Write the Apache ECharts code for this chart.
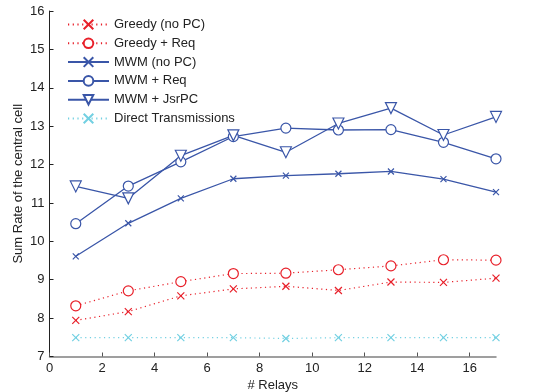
<!DOCTYPE html>
<html><head><meta charset="utf-8">
<script src="https://cdn.jsdelivr.net/npm/echarts@6/dist/echarts.min.js"></script>
<style>html,body{margin:0;padding:0;background:#fff}#c{width:541px;height:392px}</style>
</head><body><div id="c"></div>
<script>
const relays = [1, 3, 5, 7, 9, 11, 13, 15, 17];
const greedyNoPC = [7.94, 8.17, 8.58, 8.76, 8.83, 8.72, 8.94, 8.93, 9.04];
const greedyReq = [8.32, 8.71, 8.95, 9.16, 9.17, 9.26, 9.36, 9.52, 9.51];
const mwmNoPC = [9.61, 10.47, 11.12, 11.63, 11.71, 11.76, 11.82, 11.62, 11.28];
const mwmReq = [10.46, 11.44, 12.07, 12.73, 12.95, 12.90, 12.91, 12.58, 12.15];
const mwmJsr = [11.43, 11.12, 12.23, 12.76, 12.32, 13.07, 13.47, 12.77, 13.24];
const direct = [7.49, 7.49, 7.49, 7.49, 7.47, 7.49, 7.49, 7.49, 7.49];
const xTicks = [0, 2, 4, 6, 8, 10, 12, 14, 16];

const RED = '#e8202a', BLUE = '#3a56a8', CYAN = '#72d0e2';
const XSYM = 'path://M0,0L10,10M10,0L0,10';
const TRI = 'path://M0,0L10,0L5,9Z';
const font = 'Liberation Sans, Arial, sans-serif';

function pts(v) { return relays.map((x, i) => [x, v[i]]); }
function mk(name, data, color, dotted, symbol, size) {
  const hollow = symbol !== XSYM;
  return {
    name, type: 'line', data: pts(data), symbol, symbolSize: size,
    showSymbol: true,
    lineStyle: { color, width: dotted ? 1.2 : 1.3, type: dotted ? [1.2, 3.5] : 'solid' },
    itemStyle: { color: hollow ? '#fff' : color, borderColor: color, borderWidth: 1.2 },
    emphasis: { disabled: true }, animation: false
  };
}
const chart = echarts.init(document.getElementById('c'));
chart.setOption({
  animation: false,
  textStyle: { fontFamily: font },
  grid: { left: 49.5, right: 45, top: 11, bottom: 35.5, containLabel: false, outerBoundsMode: 'none' },
  legend: {
    orient: 'vertical', left: 62, top: 13, itemWidth: 41, itemHeight: 12, itemGap: 5.8,
    textStyle: { fontFamily: font, fontSize: 13, color: '#222' },
    data: ['Greedy (no PC)', 'Greedy + Req', 'MWM (no PC)', 'MWM + Req', 'MWM + JsrPC', 'Direct Transmissions']
  },
  xAxis: {
    type: 'value', min: 0, max: 17, interval: 2,
    name: '# Relays', nameLocation: 'middle', nameGap: 21,
    nameTextStyle: { fontFamily: font, fontSize: 13, color: '#222' },
    axisLine: { lineStyle: { color: '#808080', width: 1.5 } },
    axisTick: { inside: true, length: 4, customValues: xTicks, lineStyle: { color: '#555' } },
    axisLabel: { customValues: xTicks, margin: 5, fontFamily: font, fontSize: 13, color: '#222' },
    splitLine: { show: false }
  },
  yAxis: {
    type: 'value', min: 7, max: 16, interval: 1,
    name: 'Sum Rate of the central cell', nameLocation: 'middle', nameGap: 25, nameMoveOverlap: false,
    nameTextStyle: { fontFamily: font, fontSize: 13, color: '#222' },
    axisLine: { show: true, lineStyle: { color: '#222', width: 1 } },
    axisTick: { show: true, inside: true, length: 4, lineStyle: { color: '#222' } },
    axisLabel: { margin: 5, fontFamily: font, fontSize: 13, color: '#222' },
    splitLine: { show: false }
  },
  series: [
    mk('Greedy (no PC)', greedyNoPC, RED, true, XSYM, 7),
    mk('Greedy + Req', greedyReq, RED, true, 'circle', 10),
    mk('MWM (no PC)', mwmNoPC, BLUE, false, XSYM, 6),
    mk('MWM + Req', mwmReq, BLUE, false, 'circle', 10),
    mk('MWM + JsrPC', mwmJsr, BLUE, false, TRI, 11),
    mk('Direct Transmissions', direct, CYAN, true, XSYM, 7)
  ]
});
</script></body></html>
